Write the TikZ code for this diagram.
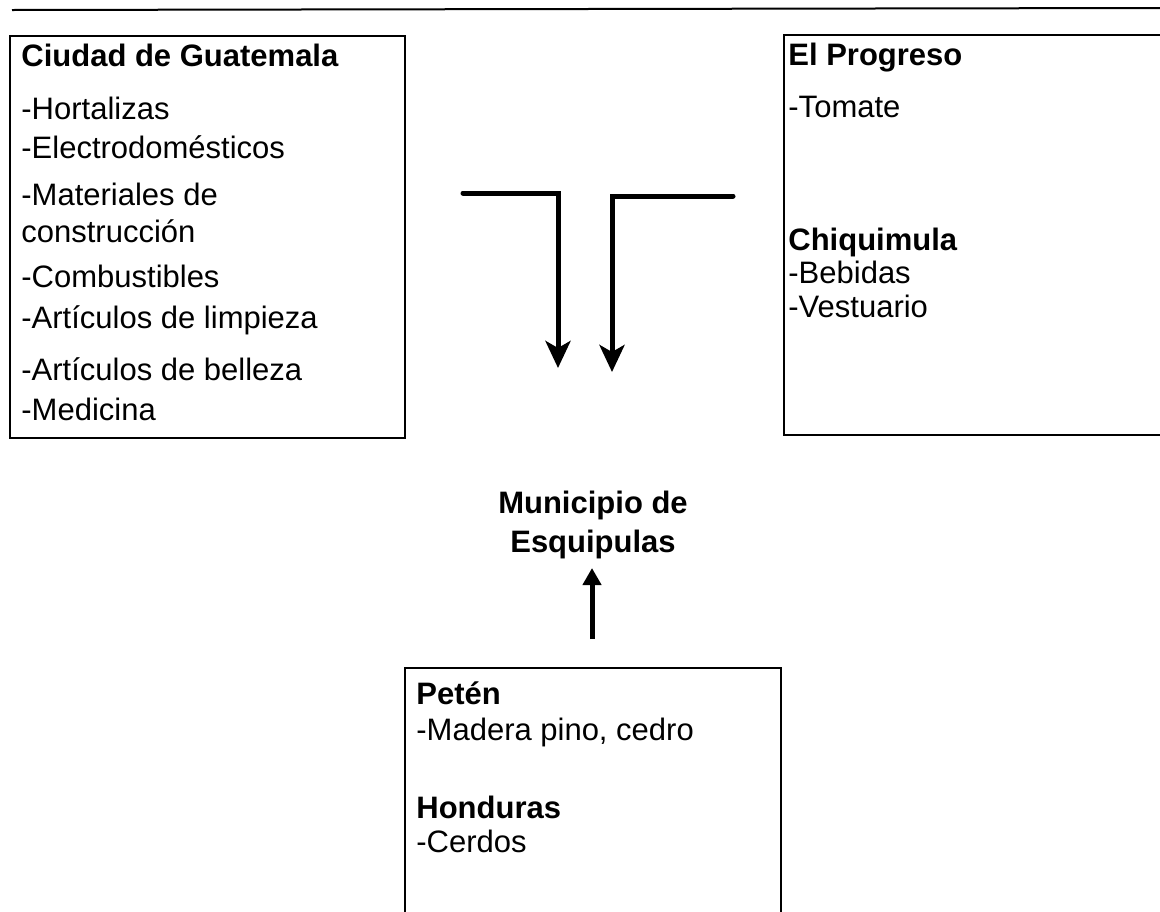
\documentclass[tikz,border=0pt]{standalone}
\usepackage{fontspec}
\setmainfont{Liberation Sans}
\usetikzlibrary{arrows.meta}

\tikzset{
  caja/.style={draw, line width=1pt, inner sep=0pt, anchor=north west},
  linea/.style={anchor=base west, inner sep=0pt, font=\fontsize{15.5}{18}\selectfont},
  titulo/.style={linea, font=\fontsize{15.5}{18}\selectfont\bfseries},
  flecha/.style={line width=2.5pt, line cap=round, line join=miter,
    -{Stealth[length=13.5pt,width=12.5pt,inset=3.5pt]}},
  flechaArriba/.style={line width=2.5pt, -{Triangle[length=8.5pt,width=9pt]}},
}

\begin{document}
\begin{tikzpicture}[x=0.5pt,y=-0.5pt]
\useasboundingbox (0,0) rectangle (1160,911);

\draw[line width=1pt] (12,10) -- (1160,8);

% cajas
\node[caja, minimum width=197.5pt, minimum height=201pt] (guatemala) at (9,35) {};
\node[caja, minimum width=196pt, minimum height=200pt] (progreso) at (783,34) {};
\node[caja, minimum width=188pt, minimum height=126.5pt] (peten) at (404,667) {};

\node[titulo] (tGuatemala) at (21,66) {Ciudad de Guatemala};
\foreach \y/\t [count=\i] in {119/-Hortalizas, 158/-Electrodomésticos,
  205/-Materiales de, 242/construcción, 287/-Combustibles,
  328/-Artículos de limpieza, 380/-Artículos de belleza, 420/-Medicina}
  \node[linea] (guate\i) at (21,\y) {\t};

\node[titulo] (tProgreso) at (788,65) {El Progreso};
\node[linea] (progreso1) at (788,117) {-Tomate};
\node[titulo] (tChiquimula) at (788,250) {Chiquimula};
\node[linea] (chiqui1) at (788,283) {-Bebidas};
\node[linea] (chiqui2) at (788,317) {-Vestuario};

\node[titulo] (tPeten) at (416,704) {Petén};
\node[linea] (peten1) at (416,740) {-Madera pino, cedro};
\node[titulo] (tHonduras) at (416,818) {Honduras};
\node[linea] (honduras1) at (416,852) {-Cerdos};

\node[anchor=north, align=center, inner sep=0pt,
  font=\fontsize{15.5}{19.5}\selectfont\bfseries] (municipio) at (593,491)
  {Municipio de\\Esquipulas};

% flechas
\coordinate (izqIni) at (463,193);
\coordinate (izqEsq) at (558,193);
\coordinate (izqFin) at (558,368);
\coordinate (derIni) at (733,196);
\coordinate (derEsq) at (612,196);
\coordinate (derFin) at (612,372);
\coordinate (subeIni) at (592,639);
\coordinate (subeFin) at (592,568);
\draw[flecha] (izqIni) -- (izqEsq) -- (izqFin);
\draw[flecha] (derIni) -- (derEsq) -- (derFin);
\draw[flechaArriba] (subeIni) -- (subeFin);
\end{tikzpicture}
\end{document}
